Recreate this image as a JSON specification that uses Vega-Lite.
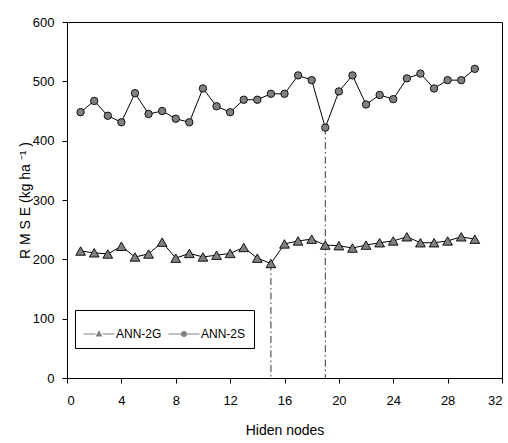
{
  "$schema": "https://vega.github.io/schema/vega-lite/v6.json",
  "width": 435,
  "height": 356,
  "autosize": {"type": "none"},
  "padding": {"left": 67, "top": 22, "right": 6, "bottom": 65},
  "background": "white",
  "config": {
    "view": {"stroke": "black", "strokeWidth": 1},
    "font": "Liberation Sans",
    "axis": {
      "grid": false,
      "domainColor": "black",
      "tickColor": "black",
      "labelColor": "black",
      "titleColor": "black",
      "labelFont": "Liberation Sans",
      "titleFont": "Liberation Sans",
      "labelFontSize": 13,
      "titleFontSize": 14,
      "titleFontWeight": "normal",
      "tickSize": 5,
      "domainWidth": 1,
      "tickWidth": 1
    }
  },
  "datasets": {
    "rmse": [
      {"nodes": 1, "series": "ANN-2G", "RMSE": 214},
      {"nodes": 2, "series": "ANN-2G", "RMSE": 211},
      {"nodes": 3, "series": "ANN-2G", "RMSE": 209},
      {"nodes": 4, "series": "ANN-2G", "RMSE": 222},
      {"nodes": 5, "series": "ANN-2G", "RMSE": 204},
      {"nodes": 6, "series": "ANN-2G", "RMSE": 209},
      {"nodes": 7, "series": "ANN-2G", "RMSE": 229},
      {"nodes": 8, "series": "ANN-2G", "RMSE": 202},
      {"nodes": 9, "series": "ANN-2G", "RMSE": 210},
      {"nodes": 10, "series": "ANN-2G", "RMSE": 204},
      {"nodes": 11, "series": "ANN-2G", "RMSE": 207},
      {"nodes": 12, "series": "ANN-2G", "RMSE": 210},
      {"nodes": 13, "series": "ANN-2G", "RMSE": 220},
      {"nodes": 14, "series": "ANN-2G", "RMSE": 202},
      {"nodes": 15, "series": "ANN-2G", "RMSE": 193},
      {"nodes": 16, "series": "ANN-2G", "RMSE": 226},
      {"nodes": 17, "series": "ANN-2G", "RMSE": 231},
      {"nodes": 18, "series": "ANN-2G", "RMSE": 234},
      {"nodes": 19, "series": "ANN-2G", "RMSE": 224},
      {"nodes": 20, "series": "ANN-2G", "RMSE": 223},
      {"nodes": 21, "series": "ANN-2G", "RMSE": 219},
      {"nodes": 22, "series": "ANN-2G", "RMSE": 224},
      {"nodes": 23, "series": "ANN-2G", "RMSE": 228},
      {"nodes": 24, "series": "ANN-2G", "RMSE": 231},
      {"nodes": 25, "series": "ANN-2G", "RMSE": 238},
      {"nodes": 26, "series": "ANN-2G", "RMSE": 228},
      {"nodes": 27, "series": "ANN-2G", "RMSE": 228},
      {"nodes": 28, "series": "ANN-2G", "RMSE": 231},
      {"nodes": 29, "series": "ANN-2G", "RMSE": 238},
      {"nodes": 30, "series": "ANN-2G", "RMSE": 234},
      {"nodes": 1, "series": "ANN-2S", "RMSE": 448},
      {"nodes": 2, "series": "ANN-2S", "RMSE": 467},
      {"nodes": 3, "series": "ANN-2S", "RMSE": 442},
      {"nodes": 4, "series": "ANN-2S", "RMSE": 431},
      {"nodes": 5, "series": "ANN-2S", "RMSE": 480},
      {"nodes": 6, "series": "ANN-2S", "RMSE": 445},
      {"nodes": 7, "series": "ANN-2S", "RMSE": 450},
      {"nodes": 8, "series": "ANN-2S", "RMSE": 437},
      {"nodes": 9, "series": "ANN-2S", "RMSE": 431},
      {"nodes": 10, "series": "ANN-2S", "RMSE": 488},
      {"nodes": 11, "series": "ANN-2S", "RMSE": 458},
      {"nodes": 12, "series": "ANN-2S", "RMSE": 448},
      {"nodes": 13, "series": "ANN-2S", "RMSE": 469},
      {"nodes": 14, "series": "ANN-2S", "RMSE": 469},
      {"nodes": 15, "series": "ANN-2S", "RMSE": 479},
      {"nodes": 16, "series": "ANN-2S", "RMSE": 479},
      {"nodes": 17, "series": "ANN-2S", "RMSE": 510},
      {"nodes": 18, "series": "ANN-2S", "RMSE": 502},
      {"nodes": 19, "series": "ANN-2S", "RMSE": 422},
      {"nodes": 20, "series": "ANN-2S", "RMSE": 483},
      {"nodes": 21, "series": "ANN-2S", "RMSE": 510},
      {"nodes": 22, "series": "ANN-2S", "RMSE": 461},
      {"nodes": 23, "series": "ANN-2S", "RMSE": 477},
      {"nodes": 24, "series": "ANN-2S", "RMSE": 470},
      {"nodes": 25, "series": "ANN-2S", "RMSE": 505},
      {"nodes": 26, "series": "ANN-2S", "RMSE": 513},
      {"nodes": 27, "series": "ANN-2S", "RMSE": 488},
      {"nodes": 28, "series": "ANN-2S", "RMSE": 502},
      {"nodes": 29, "series": "ANN-2S", "RMSE": 502},
      {"nodes": 30, "series": "ANN-2S", "RMSE": 521}
    ],
    "optimum": [
      {"nodes": 15, "RMSE": 193},
      {"nodes": 19, "RMSE": 422}
    ]
  },
  "layer": [
    {
      "data": {"name": "optimum"},
      "mark": {"type": "rule", "stroke": "#333333", "strokeWidth": 1, "strokeDash": [7, 3, 1.5, 3]},
      "encoding": {
        "x": {"field": "nodes", "type": "quantitative"},
        "y": {"field": "RMSE", "type": "quantitative"},
        "y2": {"datum": 0}
      }
    },
    {
      "data": {"name": "rmse"},
      "mark": {"type": "line", "stroke": "black", "strokeWidth": 1},
      "encoding": {
        "x": {
          "field": "nodes", "type": "quantitative",
          "scale": {"domain": [0, 32], "nice": false, "zero": false},
          "axis": {"values": [0, 4, 8, 12, 16, 20, 24, 28, 32], "title": "Hiden nodes", "labelPadding": 11, "titlePadding": 16}
        },
        "y": {
          "field": "RMSE", "type": "quantitative",
          "scale": {"domain": [0, 600], "nice": false},
          "axis": {"values": [0, 100, 200, 300, 400, 500, 600], "title": "R M S E  (kg  ha  ⁻¹ )", "labelPadding": 8, "titlePadding": 0}
        },
        "detail": {"field": "series"}
      }
    },
    {
      "data": {"name": "rmse"},
      "transform": [{"filter": "datum.series === 'ANN-2G'"}],
      "mark": {"type": "point", "shape": "triangle-up", "filled": true, "fill": "#808080", "stroke": "black", "strokeWidth": 0.9, "opacity": 1, "size": 95},
      "encoding": {
        "x": {"field": "nodes", "type": "quantitative"},
        "y": {"field": "RMSE", "type": "quantitative"}
      }
    },
    {
      "data": {"name": "rmse"},
      "transform": [{"filter": "datum.series === 'ANN-2S'"}],
      "mark": {"type": "point", "shape": "circle", "filled": true, "fill": "#808080", "stroke": "black", "strokeWidth": 0.9, "opacity": 1, "size": 55},
      "encoding": {
        "x": {"field": "nodes", "type": "quantitative"},
        "y": {"field": "RMSE", "type": "quantitative"}
      }
    },
    {
      "data": {"name": "rmse"},
      "transform": [{"filter": "datum.nodes > 100"}],
      "mark": {"type": "point", "filled": true, "fill": "#808080", "stroke": "black", "strokeWidth": 1, "opacity": 1},
      "encoding": {
        "x": {"field": "nodes", "type": "quantitative"},
        "y": {"field": "RMSE", "type": "quantitative"},
        "shape": {
          "field": "series", "type": "nominal",
          "scale": {
            "domain": ["ANN-2G", "ANN-2S"],
            "range": [
              "M-1,-0.025H-0.22V0.025H-1ZM0.22,-0.025H1V0.025H0.22ZM0,-0.24L0.22,0.16L-0.22,0.16Z",
              "M-1,-0.025H-0.2V0.025H-1ZM0.2,-0.025H1V0.025H0.2ZM-0.2,0A0.2,0.2,0,1,0,0.2,0A0.2,0.2,0,1,0,-0.2,0Z"
            ]
          },
          "legend": {
            "title": null,
            "orient": "none",
            "legendX": 8,
            "legendY": 288,
            "direction": "horizontal",
            "fillColor": "white",
            "strokeColor": "black",
            "padding": 8,
            "labelFont": "Liberation Sans",
            "labelFontSize": 12,
            "labelColor": "black",
            "labelOffset": 1,
            "columnPadding": 4,
            "symbolSize": 961,
            "symbolFillColor": "#808080",
            "symbolStrokeColor": "black",
            "symbolStrokeWidth": 1,
            "symbolOpacity": 1,
            "encode": {
              "symbols": {
                "update": {
                  "stroke": {"value": "black"},
                  "strokeWidth": {"value": 0.8},
                  "fill": {"value": "#808080"}
                }
              }
            }
          }
        }
      }
    }
  ]
}
